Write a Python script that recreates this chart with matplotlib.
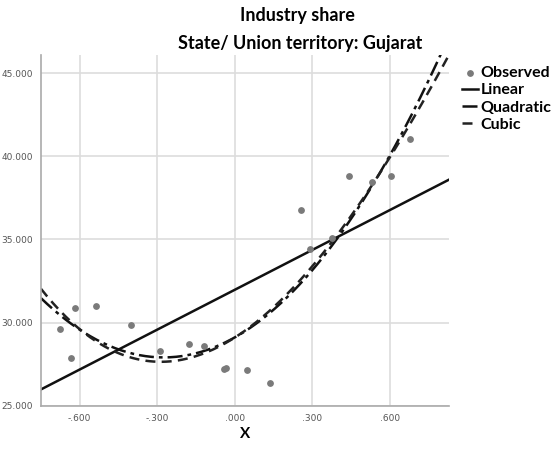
import numpy as np
import matplotlib
matplotlib.use('Agg')
import matplotlib.pyplot as plt
from matplotlib.ticker import FuncFormatter

# observed points
obs_x = [-0.678, -0.635, -0.618, -0.538, -0.403, -0.288, -0.176, -0.118, -0.040, -0.035,
         0.048, 0.137, 0.257, 0.292, 0.375, 0.444, 0.530, 0.606, 0.679]
obs_y = [29.60, 27.86, 30.88, 31.02, 29.86, 28.30, 28.72, 28.60, 27.22, 27.25,
         27.16, 26.36, 36.76, 34.40, 35.06, 38.80, 38.46, 38.80, 41.06]

title1 = 'Industry share'
title2 = 'State/ Union territory: Gujarat'
x_ticks = [-0.6, -0.3, 0.0, 0.3, 0.6]
y_ticks = [25, 30, 35, 40, 45]

fig = plt.figure(figsize=(5.53, 4.57), dpi=100)
ax = fig.add_axes([0.074, 0.112, 0.738, 0.768])

xs = np.linspace(-0.75, 0.83, 200)
lin = np.polyval(np.polyfit(obs_x, obs_y, 1), xs)
quad = np.polyval(np.polyfit(obs_x, obs_y, 2), xs)
cub = np.polyval(np.polyfit(obs_x, obs_y, 3), xs)

ax.scatter(obs_x, obs_y, s=15, color='#7a7a7a', zorder=3, label='Observed')
ax.plot(xs, lin, color='#111111', lw=1.8, label='Linear')
ax.plot(xs, quad, color='#111111', lw=1.8, dashes=(6, 2, 1.5, 2), label='Quadratic')
ax.plot(xs, cub, color='#222222', lw=1.8, dashes=(4, 2.5), label='Cubic')

ax.set_xlim(-0.75, 0.83)
ax.set_ylim(25, 46.1)
ax.set_xticks(x_ticks)
ax.set_yticks(y_ticks)

def xfmt(v, pos):
    s = '%.3f' % v
    return s.replace('0.', '.', 1) if abs(v) < 1 else s

ax.xaxis.set_major_formatter(FuncFormatter(xfmt))
ax.yaxis.set_major_formatter(FuncFormatter(lambda v, p: '%.3f' % v))
ax.tick_params(labelsize=6.5, colors='#555555', length=0, pad=6)
ax.grid(True, color='#dddddd', lw=1.2)
ax.set_axisbelow(True)
for s in ['top', 'right']:
    ax.spines[s].set_visible(False)
for s in ['left', 'bottom']:
    ax.spines[s].set_color('#aaaaaa')
    ax.spines[s].set_linewidth(1.2)

ax.set_xlabel('X', fontsize=11, fontweight='bold', family='Lato', labelpad=3)

fig.text(297 / 553, 1 - 15 / 457, title1, ha='center', va='center',
         fontsize=13, fontweight='bold', family='Lato')
fig.text(300 / 553, 1 - 43 / 457, title2, ha='center', va='center',
         fontsize=13, fontweight='bold', family='Lato')

ax.legend(loc='upper left', bbox_to_anchor=(1.02, 0.983), frameon=False,
          prop={'family': 'Lato', 'weight': 'bold', 'size': 11.5},
          handlelength=1.0, handletextpad=0.15, labelspacing=0.2,
          borderaxespad=0.2, borderpad=0.1)

fig.savefig('out.png', dpi=100)
